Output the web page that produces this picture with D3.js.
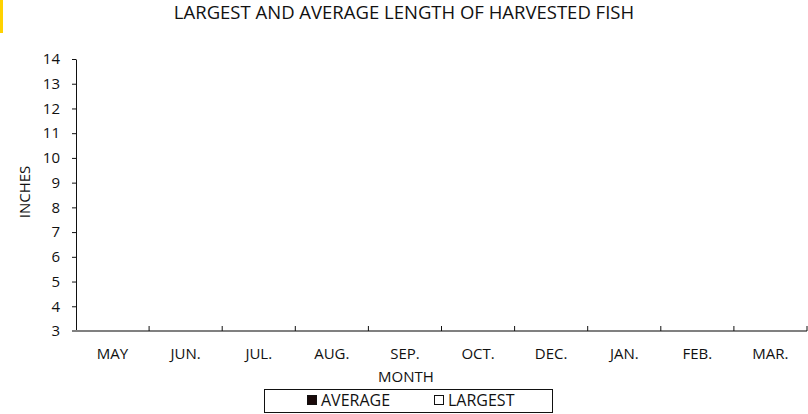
<!DOCTYPE html>
<html>
<head>
<meta charset="utf-8">
<script src="https://cdn.jsdelivr.net/npm/d3@7/dist/d3.min.js"></script>
<style>
  html, body { margin: 0; padding: 0; background: #fff; }
  svg { display: block; font-family: "Open Sans", "Noto Sans", sans-serif; }
</style>
</head>
<body>
<div id="chart"></div>
<script>
// data: the plot has no visible bars
const months = ["MAY", "JUN.", "JUL.", "AUG.", "SEP.", "OCT.", "DEC.", "JAN.", "FEB.", "MAR."];
const averageLength = [null, null, null, null, null, null, null, null, null, null];
const largestLength = [null, null, null, null, null, null, null, null, null, null];
const yTicks = [3, 4, 5, 6, 7, 8, 9, 10, 11, 12, 13, 14];

const width = 808, height = 414;
const margin = { top: 59, right: 1, bottom: 84, left: 76 };
const labelSize = 15;

const svg = d3.select("#chart").append("svg")
    .attr("width", width)
    .attr("height", height);

// yellow marker at top left
svg.append("rect")
    .attr("x", 0).attr("y", 0)
    .attr("width", 3).attr("height", 33)
    .attr("fill", "#ffd200");

const x = d3.scaleBand()
    .domain(months)
    .range([margin.left, width - margin.right])
    .paddingInner(0.3)
    .paddingOuter(0.15);

const y = d3.scaleLinear()
    .domain([3, 14])
    .range([height - margin.bottom + 1, margin.top]);

// title
svg.append("text")
    .attr("x", 404).attr("y", 19)
    .attr("text-anchor", "middle")
    .attr("font-size", 18.5)
    .attr("fill", "#111")
    .text("LARGEST AND AVERAGE LENGTH OF HARVESTED FISH");

// bars (none in the reference)
const sub = d3.scaleBand().domain(["avg", "max"]).range([0, x.bandwidth()]);
const barData = months.flatMap((m, i) => [
    { m, k: "avg", v: averageLength[i] },
    { m, k: "max", v: largestLength[i] }
]).filter(d => d.v != null);

svg.append("g").selectAll("rect")
    .data(barData)
    .join("rect")
    .attr("x", d => x(d.m) + sub(d.k))
    .attr("y", d => y(d.v))
    .attr("width", sub.bandwidth())
    .attr("height", d => y(3) - y(d.v))
    .attr("fill", d => d.k === "avg" ? "#1a0a0a" : "#fff")
    .attr("stroke", "#111");

// y axis
const yAxis = svg.append("g")
    .attr("transform", `translate(${margin.left},0)`)
    .call(d3.axisLeft(y).tickValues(yTicks).tickSize(4).tickSizeOuter(0).tickPadding(12));
yAxis.select(".domain").attr("stroke", "#111");
yAxis.selectAll(".tick line").attr("stroke", "#111");
yAxis.selectAll(".tick text")
    .attr("font-size", labelSize)
    .attr("fill", "#111")
    .attr("font-family", "\"Open Sans\", \"Noto Sans\", sans-serif");

// x axis
const step = x.step();
const xEdges = d3.range(months.length + 1).map(i => margin.left + i * step);
const xAxisG = svg.append("g");
xAxisG.append("line")
    .attr("x1", margin.left - 4).attr("x2", width - margin.right)
    .attr("y1", y(3)).attr("y2", y(3))
    .attr("stroke", "#808080")
    .attr("stroke-width", 2);
xAxisG.selectAll("line.tk")
    .data(xEdges.slice(1))
    .join("line")
    .attr("class", "tk")
    .attr("x1", d => d).attr("x2", d => d)
    .attr("y1", y(3)).attr("y2", y(3) - 5)
    .attr("stroke", "#111");
xAxisG.selectAll("text")
    .data(months)
    .join("text")
    .attr("x", d => x(d) + x.bandwidth() / 2)
    .attr("y", 359)
    .attr("text-anchor", "middle")
    .attr("font-size", labelSize)
    .attr("fill", "#111")
    .text(d => d);

// axis titles
svg.append("text")
    .attr("x", 406).attr("y", 382)
    .attr("text-anchor", "middle")
    .attr("font-size", labelSize)
    .attr("fill", "#111")
    .text("MONTH");

svg.append("text")
    .attr("transform", "translate(30,192) rotate(-90)")
    .attr("text-anchor", "middle")
    .attr("font-size", labelSize)
    .attr("fill", "#111")
    .text("INCHES");

// legend
const legend = svg.append("g");
legend.append("rect")
    .attr("x", 264.5).attr("y", 389.5)
    .attr("width", 288).attr("height", 23)
    .attr("fill", "#fff")
    .attr("stroke", "#111");
const legendItems = [
    { label: "AVERAGE", x: 307, fill: "#1a0a0a" },
    { label: "LARGEST", x: 434, fill: "#fff" }
];
legendItems.forEach(d => {
    legend.append("rect")
        .attr("x", d.x + 0.5).attr("y", 395.5)
        .attr("width", 9).attr("height", 9)
        .attr("fill", d.fill)
        .attr("stroke", "#111");
    legend.append("text")
        .attr("x", d.x + 14).attr("y", 406)
        .attr("font-size", 16)
        .attr("fill", "#111")
        .text(d.label);
});
</script>
</body>
</html>
